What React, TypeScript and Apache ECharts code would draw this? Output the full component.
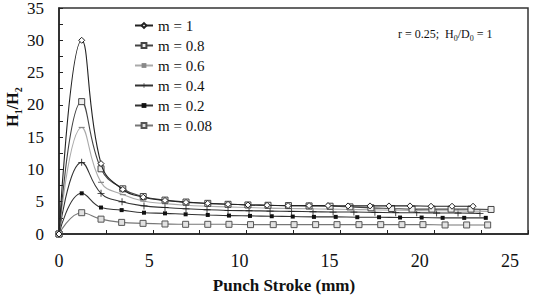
import React, { useEffect, useRef } from "react";
import * as echarts from "echarts";

const seriesNames = ["m = 1", "m = 0.8", "m = 0.6", "m = 0.4", "m = 0.2", "m = 0.08"];

const xM1 = [0, 1.21, 2.24, 3.4, 4.49, 5.65, 6.77, 7.93, 9.01, 10.07, 11.09, 12.21, 13.33, 14.34, 15.41, 16.58, 17.59, 18.71, 19.83, 20.95, 22.07];
const yM1 = [0, 30, 10.9, 6.9, 5.7, 5.2, 4.9, 4.75, 4.6, 4.5, 4.45, 4.4, 4.4, 4.4, 4.35, 4.35, 4.35, 4.35, 4.3, 4.3, 4.3];

const xM08 = [0, 1.21, 2.24, 3.4, 4.49, 5.65, 6.77, 7.93, 9.01, 10.07, 11.14, 12.23, 13.33, 14.45, 15.51, 16.63, 17.73, 18.82, 19.88, 20.9, 21.96, 23.03];
const yM08 = [0, 20.5, 10.1, 7.0, 5.8, 5.25, 4.95, 4.75, 4.6, 4.5, 4.45, 4.4, 4.35, 4.3, 4.2, 4.05, 3.95, 3.85, 3.85, 3.85, 3.85, 3.8];

const xM06 = [0, 1.21, 2.24, 3.4, 4.49, 5.65, 6.77, 7.93, 9.01, 10.07, 11.14, 12.23, 13.33, 14.45, 15.51, 16.63, 17.73, 18.82, 19.88, 20.9, 21.96, 23.03];
const yM06 = [0, 16.5, 8.0, 6.1, 5.1, 4.7, 4.45, 4.3, 4.2, 4.1, 4.0, 3.95, 3.9, 3.85, 3.8, 3.75, 3.7, 3.65, 3.6, 3.6, 3.55, 3.5];

const xM04 = [0, 1.21, 2.24, 3.36, 4.53, 5.65, 6.77, 7.89, 9.01, 10.13, 11.25, 12.4, 13.54, 14.61, 15.72, 16.84, 17.95, 19.07, 20.13, 21.27, 22.44];
const yM04 = [0, 11.1, 6.3, 5.0, 4.35, 4.1, 3.9, 3.75, 3.65, 3.6, 3.55, 3.5, 3.45, 3.4, 3.4, 3.35, 3.3, 3.3, 3.25, 3.25, 3.2];

const xM02 = [0, 1.21, 2.24, 3.34, 4.53, 5.65, 6.75, 7.93, 9.06, 10.18, 11.34, 12.46, 13.59, 14.75, 15.9, 17.06, 18.18, 19.33, 20.45, 21.6, 22.75];
const yM02 = [0, 6.3, 4.1, 3.7, 3.3, 3.2, 3.05, 2.95, 2.85, 2.8, 2.75, 2.7, 2.65, 2.65, 2.6, 2.6, 2.55, 2.55, 2.5, 2.5, 2.5];

const xM008 = [0, 1.21, 2.24, 3.34, 4.48, 5.65, 6.75, 7.93, 9.06, 10.21, 11.42, 12.53, 13.68, 14.82, 15.99, 17.15, 18.28, 19.4, 20.58, 21.73, 22.85];
const yM008 = [0, 3.3, 2.3, 1.8, 1.65, 1.55, 1.5, 1.5, 1.5, 1.45, 1.45, 1.45, 1.45, 1.45, 1.45, 1.45, 1.45, 1.45, 1.4, 1.4, 1.4];

const xTickLabels = [0, 5, 10, 15, 20, 25];
const yTickLabels = [0, 5, 10, 15, 20, 25, 30, 35];

const FONT = "Liberation Serif";

function pairs(xs: number[], ys: number[]) {
  return xs.map((x, i) => [x, ys[i]]);
}

export default function App() {
  const ref = useRef<HTMLDivElement>(null);
  useEffect(() => {
    if (!ref.current) return;
    const chart = echarts.init(ref.current, undefined, { renderer: "svg" });

    const mk = (
      name: string,
      xs: number[],
      ys: number[],
      lineColor: string,
      symbol: string,
      symbolSize: number | number[],
      fill: string,
      border: string,
      z: number
    ) => ({
      name,
      type: "line",
      smooth: 0.45,
      data: pairs(xs, ys),
      xAxisIndex: 0,
      yAxisIndex: 0,
      symbol,
      symbolSize,
      showAllSymbol: true,
      z,
      lineStyle: { color: lineColor, width: 1.1 },
      itemStyle: { color: fill, borderColor: border, borderWidth: border === "none" ? 0 : 1 },
    });

    const plus = "path://M0,4.4H10V5.6H0Z M4.4,0H5.6V10H4.4Z";

    chart.setOption({
      animation: false,
      backgroundColor: "#fff",
      textStyle: { fontFamily: FONT },
      grid: {
        left: 59, right: 14, top: 8, bottom: 64,
        containLabel: false,
        outerBoundsMode: "none",
        show: true, borderColor: "#333", borderWidth: 1.5, backgroundColor: "transparent",
      },
      legend: {
        orient: "vertical",
        left: 129,
        top: 13,
        itemWidth: 18,
        itemHeight: 6,
        itemGap: 5,
        data: seriesNames,
        textStyle: { fontFamily: FONT, fontSize: 15, color: "#111" },
      },
      xAxis: [
        {
          type: "value",
          min: 0,
          max: 25,
          interval: 5,
          axisLine: { show: true, lineStyle: { color: "#222", width: 1.5 } },
          axisTick: { show: true, inside: true, length: 4, lineStyle: { color: "#222" } },
          minorTick: { show: true, splitNumber: 2, length: 4, lineStyle: { color: "#222" } },
          axisLabel: { show: false },
          splitLine: { show: false },
        },
        {
          type: "value",
          position: "bottom",
          min: 0,
          max: 26,
          interval: 5,
          axisLine: { show: false },
          axisTick: { show: false },
          splitLine: { show: false },
          axisLabel: {
            margin: 18,
            fontFamily: FONT,
            fontSize: 18,
            color: "#111",
            formatter: (v: number) => (xTickLabels.includes(v) ? String(v) : ""),
          },
          name: "Punch Stroke (mm)",
          nameLocation: "middle",
          nameGap: 43,
          nameTextStyle: { fontFamily: FONT, fontSize: 17, fontWeight: "bold", color: "#111", padding: [0, 19, 0, 0] },
        },
      ],
      yAxis: {
        type: "value",
        min: 0,
        max: 35,
        interval: 5,
        axisLine: { show: true, lineStyle: { color: "#222", width: 1.5 } },
        axisTick: { show: true, inside: true, length: 4, lineStyle: { color: "#222" } },
        minorTick: { show: true, splitNumber: 2, length: 4, lineStyle: { color: "#222" } },
        splitLine: { show: false },
        axisLabel: {
          margin: 15,
          fontFamily: FONT,
          fontSize: 17,
          color: "#111",
          formatter: (v: number) => (yTickLabels.includes(v) ? String(v) : ""),
        },
      },
      graphic: [
        {
          type: "text",
          x: 12,
          y: 107,
          rotation: Math.PI / 2,
          style: {
            text: "{b|H}{s|1}{b|/H}{s|2}",
            align: "center",
            verticalAlign: "middle",
            rich: {
              b: { fontFamily: FONT, fontSize: 16, fontWeight: "bold", fill: "#111", lineHeight: 16, verticalAlign: "bottom" },
              s: { fontFamily: FONT, fontSize: 10, fontWeight: "bold", fill: "#111", lineHeight: 16, verticalAlign: "bottom", padding: [0, 0, -3, 0] },
            },
          },
        },
        {
          type: "text",
          left: 398,
          top: 28,
          style: {
            text: "{a|r = 0.25;  H}{s|0}{a|/D}{s|0}{a| = 1}",
            rich: {
              a: { fontFamily: FONT, fontSize: 12, fill: "#111", lineHeight: 14, verticalAlign: "bottom" },
              s: { fontFamily: FONT, fontSize: 8, fill: "#111", lineHeight: 14, verticalAlign: "bottom", padding: [0, 0, -2, 0] },
            },
          },
        },
      ],
      series: [
        mk(seriesNames[5], xM008, yM008, "#777", "rect", 6, "#e2e2e2", "#555", 1),
        mk(seriesNames[4], xM02, yM02, "#333", "rect", 4, "#111", "none", 2),
        mk(seriesNames[3], xM04, yM04, "#333", plus, 7, "#222", "none", 3),
        mk(seriesNames[2], xM06, yM06, "#aaa", "rect", [6, 1.2], "#888", "none", 4),
        mk(seriesNames[1], xM08, yM08, "#444", "rect", 6, "#eee", "#444", 5),
        mk(seriesNames[0], xM1, yM1, "#222", "diamond", 6, "#fff", "#222", 6),
      ],
    });
    return () => chart.dispose();
  }, []);
  return <div ref={ref} style={{ width: 542, height: 298, position: "absolute", left: 0, top: 0 }} />;
}
